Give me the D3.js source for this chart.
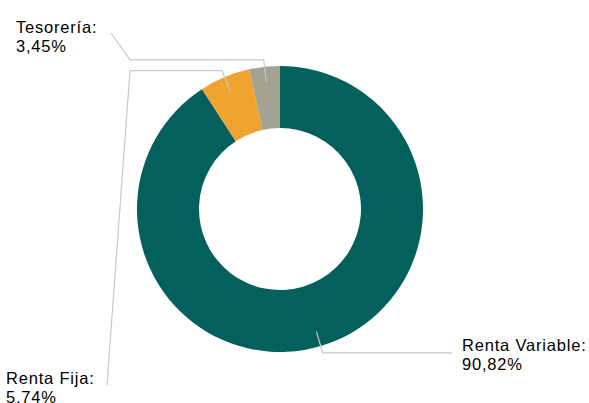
<!DOCTYPE html>
<html>
<head>
<meta charset="utf-8">
<script src="https://cdn.jsdelivr.net/npm/d3@7"></script>
<style>
  html, body { margin: 0; padding: 0; background: #ffffff; }
  svg { display: block; }
  text { font-family: "Liberation Sans", Arial, sans-serif; font-size: 16.5px; letter-spacing: 0.8px; fill: #000000; }
</style>
</head>
<body>
<svg id="chart" width="589" height="403"></svg>
<script>
// Data
const categories = ["Renta Variable", "Renta Fija", "Tesorería"];
const values = [90.82, 5.74, 3.45];
const valueLabels = ["90,82%", "5,74%", "3,45%"];
const colors = ["#04605c", "#f0a430", "#a3a293"];

// Layout
const width = 589, height = 403;
const cx = 280, cy = 209;
const innerR = 81, outerR = 143;
const leaderStartR = 128, leaderBendR = 150;

// label layout per slice: horizontal run end x, optional final point, text position
const labelLayout = [
  { hx: 452, end: null, tx: 462, ty: 351 },
  { hx: 130, end: [107, 385], tx: 6, ty: 384 },
  { hx: 130, end: [111, 33], tx: 16, ty: 33 }
];

const svg = d3.select("#chart");
const g = svg.append("g").attr("transform", `translate(${cx},${cy})`);

const pie = d3.pie().sort(null).value(d => d)(values);
const arc = d3.arc().innerRadius(innerR).outerRadius(outerR);

g.selectAll("path.slice")
  .data(pie)
  .enter().append("path")
  .attr("class", "slice")
  .attr("d", arc)
  .attr("fill", (d, i) => colors[i]);

const pointAt = (ang, r) => [r * Math.sin(ang), -r * Math.cos(ang)];

pie.forEach((d, i) => {
  const mid = (d.startAngle + d.endAngle) / 2;
  const p0 = pointAt(mid, leaderStartR);
  const p1 = pointAt(mid, leaderBendR);
  const L = labelLayout[i];
  const pts = [p0, p1, [L.hx - cx, p1[1]]];
  if (L.end) pts.push([L.end[0] - cx, L.end[1] - cy]);
  g.append("path")
    .attr("d", d3.line()(pts))
    .attr("fill", "none")
    .attr("stroke", "#c8c8c8")
    .attr("stroke-width", 1.2);

  const t = svg.append("text")
    .attr("x", L.tx)
    .attr("y", L.ty);
  t.append("tspan").attr("x", L.tx).text(categories[i] + ":");
  t.append("tspan").attr("x", L.tx).attr("dy", 19).text(valueLabels[i]);
});
</script>
</body>
</html>
